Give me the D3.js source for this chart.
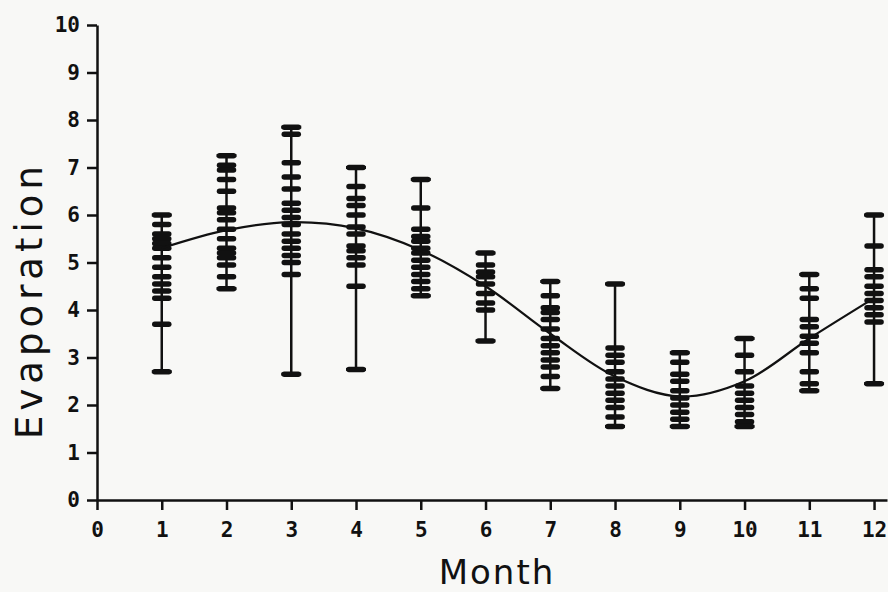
<!DOCTYPE html>
<html>
<head>
<meta charset="utf-8">
<script src="https://cdn.jsdelivr.net/npm/d3@7"></script>
<style>
  body { margin: 0; background: #f8f8f6; }
  #visualContainer { width: 888px; height: 592px; }
  .axis text { font-family: "DejaVu Sans Mono", monospace; font-weight: bold; font-size: 21px; fill: #111; }
  .axis path, .axis line { stroke: #111; stroke-width: 2.5; }
</style>
</head>
<body>
<div id="visualContainer"></div>
<script>
var months = [1, 2, 3, 4, 5, 6, 7, 8, 9, 10, 11, 12];
var obs1 = [6.0, 5.8, 5.6, 5.5, 5.4, 5.3, 5.1, 4.9, 4.7, 4.55, 4.4, 4.25, 3.7, 2.7];
var obs2 = [7.25, 7.05, 6.95, 6.75, 6.5, 6.15, 6.05, 5.9, 5.7, 5.5, 5.3, 5.2, 5.1, 4.95, 4.7, 4.45];
var obs3 = [7.85, 7.7, 7.1, 6.8, 6.55, 6.25, 6.1, 5.95, 5.8, 5.6, 5.45, 5.3, 5.15, 5.0, 4.75, 2.65];
var obs4 = [7.0, 6.6, 6.35, 6.2, 6.0, 5.75, 5.6, 5.35, 5.25, 5.1, 4.95, 4.5, 2.75];
var obs5 = [6.75, 6.15, 5.7, 5.55, 5.45, 5.3, 5.2, 5.05, 4.9, 4.75, 4.6, 4.45, 4.3];
var obs6 = [5.2, 4.95, 4.8, 4.7, 4.55, 4.35, 4.15, 4.0, 3.35];
var obs7 = [4.6, 4.3, 4.05, 3.95, 3.8, 3.6, 3.4, 3.25, 3.1, 2.95, 2.8, 2.6, 2.35];
var obs8 = [4.55, 3.2, 3.05, 2.9, 2.7, 2.55, 2.4, 2.25, 2.1, 1.95, 1.75, 1.55];
var obs9 = [3.1, 2.9, 2.65, 2.5, 2.3, 2.15, 2.0, 1.85, 1.7, 1.55];
var obs10 = [3.4, 3.05, 2.7, 2.4, 2.25, 2.1, 1.95, 1.8, 1.65, 1.55];
var obs11 = [4.75, 4.45, 4.25, 3.8, 3.65, 3.45, 3.3, 3.1, 2.7, 2.45, 2.3];
var obs12 = [6.0, 5.35, 4.85, 4.7, 4.5, 4.35, 4.2, 4.05, 3.9, 3.75, 2.45];
var observations = [obs1, obs2, obs3, obs4, obs5, obs6, obs7, obs8, obs9, obs10, obs11, obs12];

// fitted mean curve, read at each month
var fitted = [5.3, 5.68, 5.85, 5.72, 5.26, 4.5, 3.5, 2.6, 2.18, 2.5, 3.4, 4.25];

var xTicks = [0, 1, 2, 3, 4, 5, 6, 7, 8, 9, 10, 11, 12];
var yTicks = [0, 1, 2, 3, 4, 5, 6, 7, 8, 9, 10];

var svgCanvas = d3.select("#visualContainer")
  .append("svg")
  .attr("width", 888)
  .attr("height", 592);

var x = d3.scaleLinear().domain([0, 12.2]).range([97, 887]);
var y = d3.scaleLinear().domain([0, 10]).range([500, 25]);

// axes
svgCanvas.append("g")
  .attr("class", "axis")
  .attr("transform", "translate(0,500)")
  .call(d3.axisBottom(x).tickValues(xTicks).tickSize(10).tickSizeOuter(0).tickPadding(12));

svgCanvas.append("g")
  .attr("class", "axis")
  .attr("transform", "translate(97,0)")
  .call(d3.axisLeft(y).tickValues(yTicks).tickSize(10).tickSizeOuter(0).tickPadding(7));

// one group per month: range bar, caps and a dash per observation
var monthData = months.map(function(m, i) {
  return {month: m, values: observations[i]};
});

var bars = svgCanvas.selectAll(".month")
  .data(monthData)
  .enter()
    .append("g")
      .attr("class", "month");

bars.append("line")
  .attr("x1", function(d){ return x(d.month); })
  .attr("x2", function(d){ return x(d.month); })
  .attr("y1", function(d){ return y(d3.max(d.values)); })
  .attr("y2", function(d){ return y(d3.min(d.values)); })
  .attr("stroke", "#111")
  .attr("stroke-width", 2.5);

bars.selectAll(".cap")
  .data(function(d){ return [
    {month: d.month, v: d3.max(d.values)},
    {month: d.month, v: d3.min(d.values)}
  ]; })
  .enter()
    .append("line")
      .attr("class", "cap")
      .attr("x1", function(d){ return x(d.month) - 10; })
      .attr("x2", function(d){ return x(d.month) + 10; })
      .attr("y1", function(d){ return y(d.v); })
      .attr("y2", function(d){ return y(d.v); })
      .attr("stroke", "#111")
      .attr("stroke-width", 3);

bars.selectAll(".dash")
  .data(function(d){ return d.values.map(function(v){ return {month: d.month, v: v}; }); })
  .enter()
    .append("line")
      .attr("class", "dash")
      .attr("x1", function(d){ return x(d.month) - 7; })
      .attr("x2", function(d){ return x(d.month) + 7; })
      .attr("y1", function(d){ return y(d.v); })
      .attr("y2", function(d){ return y(d.v); })
      .attr("stroke", "#111")
      .attr("stroke-width", 5.5)
      .attr("stroke-linecap", "round");

// fitted curve
var line = d3.line()
  .x(function(d, i){ return x(months[i]); })
  .y(function(d){ return y(d); })
  .curve(d3.curveCatmullRom);

svgCanvas.append("path")
  .datum(fitted)
  .attr("d", line)
  .attr("fill", "none")
  .attr("stroke", "#111")
  .attr("stroke-width", 2.2);

// axis titles
svgCanvas.append("text")
  .attr("x", 497)
  .attr("y", 584)
  .attr("text-anchor", "middle")
  .attr("font-family", "DejaVu Sans")
  .attr("font-size", 34)
  .attr("letter-spacing", 2)
  .attr("fill", "#111")
  .text("Month");

svgCanvas.append("text")
  .attr("transform", "translate(42,300) rotate(-90)")
  .attr("text-anchor", "middle")
  .attr("font-family", "DejaVu Sans")
  .attr("font-size", 37)
  .attr("letter-spacing", 5)
  .attr("fill", "#111")
  .text("Evaporation");
</script>
</body>
</html>
